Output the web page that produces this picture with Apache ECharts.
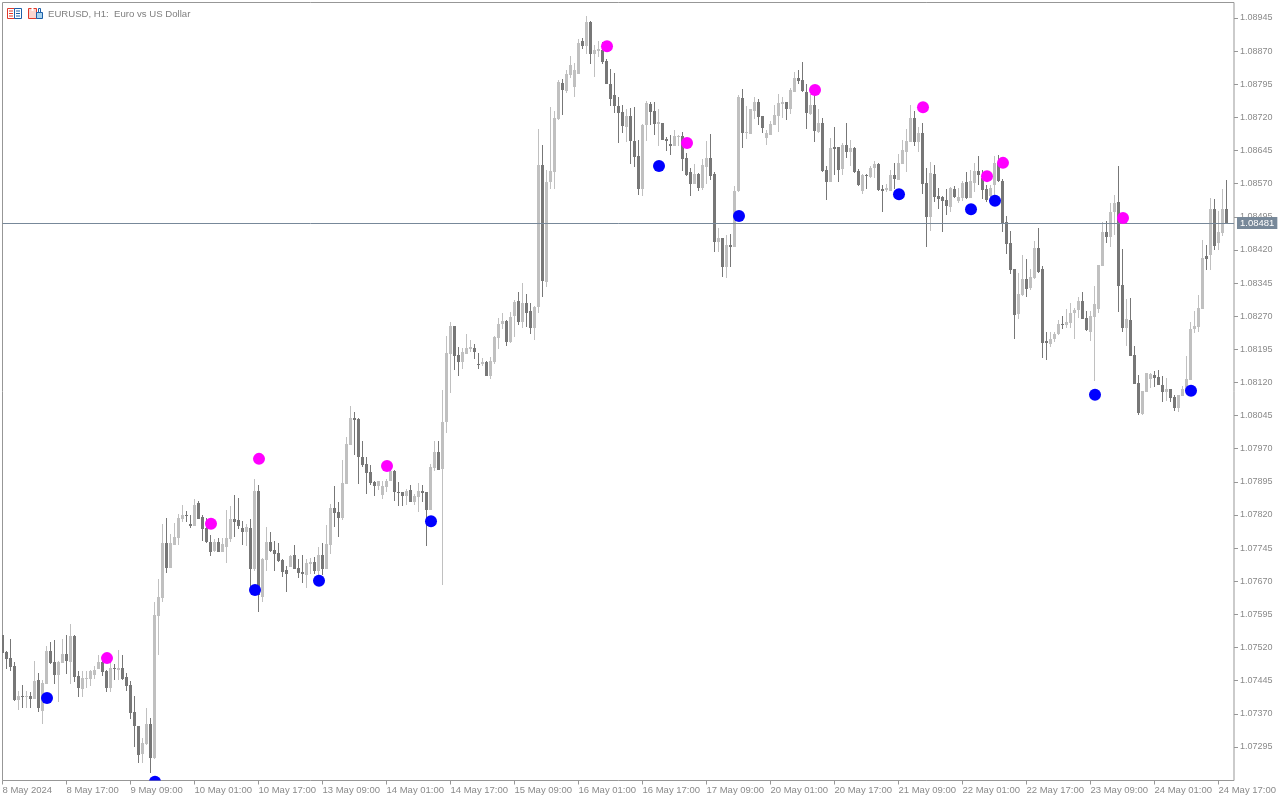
<!DOCTYPE html>
<html><head><meta charset="utf-8">
<style>html,body{margin:0;padding:0;background:#fff}#c{width:1280px;height:800px}</style>
<script src="https://cdn.jsdelivr.net/npm/echarts@6/dist/echarts.min.js"></script>
</head><body><div id="c"></div>
<script>
const opens=[1.07548,1.07509,1.07496,1.07478,1.07401,1.07410,1.07408,1.07410,1.07403,1.07446,
1.07377,1.07437,1.07512,1.07487,1.07457,1.07484,1.07505,1.07487,1.07545,1.07455,
1.07426,1.07449,1.07448,1.07457,1.07471,1.07487,1.07466,1.07428,1.07473,1.07469,
1.07473,1.07453,1.07435,1.07374,1.07342,1.07279,1.07301,1.07347,1.07270,1.07591,
1.07631,1.07756,1.07699,1.07753,1.07769,1.07810,1.07821,1.07799,1.07794,1.07846,
1.07815,1.07790,1.07759,1.07738,1.07759,1.07736,1.07747,1.07766,1.07811,1.07809,
1.07790,1.07781,1.07790,1.07698,1.07874,1.07634,1.07718,1.07759,1.07741,1.07734,
1.07718,1.07695,1.07702,1.07729,1.07700,1.07691,1.07684,1.07709,1.07714,1.07693,
1.07729,1.07698,1.07752,1.07836,1.07827,1.07813,1.07890,1.07978,1.08039,1.08037,
1.07951,1.07935,1.07917,1.07895,1.07885,1.07865,1.07883,1.07897,1.07919,1.07872,
1.07872,1.07863,1.07876,1.07849,1.07861,1.07874,1.07872,1.07831,1.07926,1.07962,
1.07924,1.08030,1.08185,1.08248,1.08183,1.08167,1.08185,1.08196,1.08198,1.08162,
1.08162,1.08167,1.08135,1.08167,1.08221,1.08253,1.08260,1.08212,1.08271,1.08305,
1.08257,1.08300,1.08282,1.08244,1.08291,1.08612,1.08348,1.08574,1.08597,1.08716,
1.08798,1.08780,1.08816,1.08789,1.08818,1.08893,1.08882,1.08936,1.08863,1.08870,
1.08873,1.08848,1.08796,1.08771,1.08746,1.08732,1.08698,1.08723,1.08667,1.08633,
1.08558,1.08703,1.08750,1.08735,1.08705,1.08707,1.08671,1.08660,1.08655,1.08676,
1.08678,1.08628,1.08597,1.08570,1.08592,1.08560,1.08608,1.08628,1.08592,1.08438,
1.08447,1.08382,1.08432,1.08427,1.08554,1.08764,1.08685,1.08683,1.08735,1.08755,
1.08723,1.08674,1.08680,1.08703,1.08723,1.08750,1.08755,1.08739,1.08778,1.08809,
1.08805,1.08778,1.08728,1.08748,1.08687,1.08707,1.08601,1.08574,1.08653,1.08653,
1.08603,1.08658,1.08642,1.08651,1.08599,1.08554,1.08590,1.08585,1.08606,1.08615,
1.08558,1.08556,1.08554,1.08590,1.08578,1.08615,1.08642,1.08664,1.08719,1.08664,
1.08685,1.08572,1.08495,1.08592,1.08542,1.08540,1.08533,1.08517,1.08558,1.08531,
1.08538,1.08574,1.08538,1.08572,1.08599,1.08583,1.08558,1.08542,1.08567,1.08617,
1.08576,1.08483,1.08436,1.08377,1.08275,1.08318,1.08354,1.08334,1.08356,1.08424,
1.08376,1.08214,1.08207,1.08218,1.08229,1.08252,1.08250,1.08254,1.08277,1.08284,
1.08304,1.08266,1.08234,1.08268,1.08286,1.08383,1.08460,1.08449,1.08505,1.08528,
1.08340,1.08243,1.08261,1.08182,1.08119,1.08048,1.08098,1.08128,1.08137,1.08132,
1.08114,1.08098,1.08105,1.08087,1.08062,1.08089,1.08103,1.08125,1.08241,1.08245,
1.08286,1.08406,1.08408,1.08512,1.08435,1.08458,1.08512];
const closes=[1.07508,1.07493,1.07476,1.07401,1.07410,1.07408,1.07410,1.07403,1.07444,1.07383,
1.07439,1.07512,1.07484,1.07457,1.07487,1.07505,1.07489,1.07545,1.07453,1.07428,
1.07451,1.07451,1.07466,1.07469,1.07487,1.07464,1.07428,1.07473,1.07472,1.07473,
1.07448,1.07432,1.07371,1.07342,1.07277,1.07304,1.07347,1.07270,1.07593,1.07634,
1.07756,1.07699,1.07756,1.07771,1.07814,1.07821,1.07817,1.07794,1.07842,1.07812,
1.07788,1.07759,1.07736,1.07759,1.07736,1.07754,1.07768,1.07811,1.07804,1.07795,
1.07781,1.07793,1.07698,1.07874,1.07639,1.07720,1.07759,1.07738,1.07732,1.07716,
1.07691,1.07686,1.07727,1.07698,1.07689,1.07686,1.07711,1.07714,1.07693,1.07729,
1.07698,1.07754,1.07836,1.07824,1.07813,1.07892,1.07980,1.08039,1.08035,1.07951,
1.07933,1.07915,1.07892,1.07885,1.07897,1.07885,1.07897,1.07919,1.07872,1.07870,
1.07863,1.07874,1.07849,1.07863,1.07874,1.07870,1.07831,1.07928,1.07962,1.07922,
1.08030,1.08186,1.08248,1.08180,1.08167,1.08189,1.08198,1.08201,1.08189,1.08160,
1.08167,1.08135,1.08169,1.08223,1.08253,1.08260,1.08212,1.08269,1.08302,1.08257,
1.08300,1.08278,1.08244,1.08291,1.08612,1.08350,1.08574,1.08599,1.08719,1.08800,
1.08782,1.08818,1.08839,1.08827,1.08888,1.08882,1.08936,1.08863,1.08873,1.08875,
1.08845,1.08796,1.08762,1.08746,1.08730,1.08701,1.08723,1.08667,1.08630,1.08558,
1.08703,1.08753,1.08732,1.08705,1.08710,1.08669,1.08667,1.08655,1.08678,1.08678,
1.08626,1.08590,1.08570,1.08592,1.08560,1.08612,1.08628,1.08588,1.08438,1.08447,
1.08382,1.08432,1.08427,1.08554,1.08766,1.08685,1.08687,1.08739,1.08755,1.08721,
1.08696,1.08685,1.08705,1.08726,1.08753,1.08755,1.08739,1.08782,1.08809,1.08803,
1.08780,1.08730,1.08748,1.08689,1.08707,1.08599,1.08574,1.08651,1.08649,1.08601,
1.08658,1.08642,1.08651,1.08597,1.08567,1.08590,1.08587,1.08606,1.08615,1.08556,
1.08554,1.08560,1.08590,1.08581,1.08617,1.08646,1.08667,1.08719,1.08664,1.08685,
1.08569,1.08495,1.08594,1.08540,1.08535,1.08531,1.08520,1.08560,1.08540,1.08540,
1.08572,1.08538,1.08576,1.08599,1.08590,1.08556,1.08533,1.08560,1.08617,1.08576,
1.08481,1.08434,1.08375,1.08273,1.08321,1.08354,1.08332,1.08359,1.08424,1.08370,
1.08209,1.08209,1.08218,1.08229,1.08252,1.08250,1.08257,1.08277,1.08284,1.08304,
1.08263,1.08238,1.08270,1.08297,1.08385,1.08460,1.08449,1.08505,1.08526,1.08338,
1.08243,1.08263,1.08180,1.08116,1.08051,1.08100,1.08141,1.08139,1.08130,1.08114,
1.08098,1.08105,1.08085,1.08062,1.08091,1.08105,1.08128,1.08241,1.08248,1.08288,
1.08401,1.08399,1.08512,1.08428,1.08460,1.08512,1.08480];
const highs=[1.07548,1.07512,1.07539,1.07487,1.07421,1.07435,1.07421,1.07419,1.07489,1.07462,
1.07446,1.07523,1.07532,1.07536,1.07489,1.07539,1.07548,1.07573,1.07548,1.07466,
1.07466,1.07466,1.07469,1.07478,1.07503,1.07503,1.07469,1.07505,1.07482,1.07514,
1.07503,1.07462,1.07444,1.07410,1.07342,1.07315,1.07383,1.07360,1.07622,1.07674,
1.07799,1.07814,1.07776,1.07801,1.07823,1.07842,1.07830,1.07819,1.07857,1.07851,
1.07820,1.07813,1.07775,1.07766,1.07768,1.07768,1.07831,1.07840,1.07865,1.07858,
1.07806,1.07800,1.07811,1.07901,1.07888,1.07723,1.07793,1.07781,1.07761,1.07757,
1.07720,1.07705,1.07729,1.07752,1.07720,1.07729,1.07720,1.07723,1.07725,1.07747,
1.07757,1.07797,1.07845,1.07885,1.07849,1.07944,1.07996,1.08066,1.08053,1.08039,
1.07987,1.07951,1.07933,1.07897,1.07897,1.07897,1.07901,1.07933,1.07922,1.07895,
1.07872,1.07879,1.07888,1.07867,1.07892,1.07888,1.07872,1.07935,1.07987,1.07987,
1.08103,1.08226,1.08257,1.08248,1.08201,1.08198,1.08230,1.08217,1.08207,1.08187,
1.08176,1.08169,1.08178,1.08226,1.08266,1.08278,1.08262,1.08280,1.08307,1.08325,
1.08345,1.08321,1.08300,1.08293,1.08694,1.08658,1.08601,1.08744,1.08735,1.08805,
1.08807,1.08827,1.08859,1.08843,1.08897,1.08900,1.08949,1.08938,1.08884,1.08893,
1.08891,1.08852,1.08830,1.08820,1.08766,1.08748,1.08739,1.08741,1.08744,1.08669,
1.08705,1.08757,1.08755,1.08755,1.08739,1.08707,1.08676,1.08680,1.08692,1.08680,
1.08687,1.08639,1.08606,1.08615,1.08594,1.08626,1.08667,1.08683,1.08597,1.08470,
1.08447,1.08454,1.08456,1.08565,1.08771,1.08784,1.08746,1.08739,1.08766,1.08762,
1.08723,1.08692,1.08712,1.08748,1.08773,1.08766,1.08755,1.08787,1.08823,1.08827,
1.08845,1.08796,1.08773,1.08771,1.08739,1.08719,1.08610,1.08674,1.08698,1.08653,
1.08662,1.08707,1.08669,1.08653,1.08603,1.08592,1.08592,1.08610,1.08621,1.08617,
1.08567,1.08569,1.08601,1.08617,1.08637,1.08669,1.08694,1.08748,1.08735,1.08698,
1.08707,1.08606,1.08619,1.08612,1.08560,1.08542,1.08558,1.08563,1.08565,1.08560,
1.08576,1.08597,1.08601,1.08617,1.08633,1.08601,1.08567,1.08567,1.08633,1.08635,
1.08581,1.08497,1.08463,1.08377,1.08368,1.08409,1.08400,1.08377,1.08440,1.08469,
1.08383,1.08234,1.08234,1.08234,1.08261,1.08270,1.08286,1.08300,1.08288,1.08313,
1.08324,1.08281,1.08281,1.08338,1.08385,1.08483,1.08485,1.08526,1.08544,1.08609,
1.08422,1.08309,1.08311,1.08202,1.08137,1.08100,1.08141,1.08141,1.08146,1.08148,
1.08134,1.08130,1.08105,1.08091,1.08091,1.08112,1.08180,1.08257,1.08281,1.08318,
1.08442,1.08431,1.08537,1.08535,1.08508,1.08557,1.08578];
const lows=[1.07508,1.07472,1.07467,1.07399,1.07378,1.07383,1.07383,1.07383,1.07403,1.07374,
1.07347,1.07437,1.07482,1.07437,1.07396,1.07484,1.07460,1.07437,1.07442,1.07408,
1.07408,1.07428,1.07432,1.07448,1.07471,1.07455,1.07419,1.07419,1.07446,1.07446,
1.07446,1.07421,1.07358,1.07295,1.07258,1.07258,1.07299,1.07236,1.07267,1.07503,
1.07622,1.07688,1.07699,1.07753,1.07751,1.07803,1.07805,1.07790,1.07794,1.07810,
1.07761,1.07757,1.07727,1.07736,1.07736,1.07736,1.07711,1.07759,1.07770,1.07788,
1.07752,1.07750,1.07657,1.07693,1.07600,1.07623,1.07693,1.07736,1.07693,1.07714,
1.07680,1.07646,1.07702,1.07698,1.07677,1.07666,1.07655,1.07686,1.07686,1.07684,
1.07684,1.07698,1.07732,1.07793,1.07770,1.07809,1.07890,1.07978,1.07956,1.07890,
1.07928,1.07867,1.07888,1.07863,1.07876,1.07856,1.07872,1.07897,1.07852,1.07840,
1.07840,1.07842,1.07849,1.07842,1.07827,1.07849,1.07750,1.07831,1.07919,1.07922,
1.07662,1.08006,1.08097,1.08149,1.08135,1.08151,1.08185,1.08189,1.08174,1.08151,
1.08158,1.08135,1.08128,1.08162,1.08196,1.08241,1.08203,1.08210,1.08223,1.08250,
1.08244,1.08246,1.08230,1.08217,1.08278,1.08314,1.08336,1.08558,1.08558,1.08714,
1.08725,1.08775,1.08809,1.08766,1.08818,1.08875,1.08863,1.08841,1.08811,1.08857,
1.08841,1.08796,1.08746,1.08730,1.08662,1.08685,1.08664,1.08615,1.08608,1.08545,
1.08542,1.08667,1.08703,1.08680,1.08655,1.08669,1.08644,1.08635,1.08655,1.08655,
1.08599,1.08588,1.08542,1.08570,1.08554,1.08556,1.08570,1.08579,1.08416,1.08416,
1.08359,1.08357,1.08382,1.08427,1.08551,1.08651,1.08671,1.08683,1.08717,1.08703,
1.08685,1.08658,1.08680,1.08703,1.08687,1.08719,1.08714,1.08728,1.08778,1.08796,
1.08778,1.08694,1.08726,1.08665,1.08685,1.08597,1.08533,1.08574,1.08590,1.08574,
1.08590,1.08628,1.08610,1.08594,1.08565,1.08547,1.08558,1.08583,1.08583,1.08554,
1.08506,1.08551,1.08554,1.08558,1.08578,1.08615,1.08597,1.08664,1.08655,1.08642,
1.08547,1.08427,1.08463,1.08529,1.08513,1.08461,1.08499,1.08506,1.08538,1.08526,
1.08531,1.08535,1.08538,1.08551,1.08567,1.08535,1.08529,1.08533,1.08542,1.08574,
1.08461,1.08411,1.08366,1.08219,1.08264,1.08316,1.08314,1.08330,1.08354,1.08367,
1.08175,1.08171,1.08200,1.08211,1.08227,1.08241,1.08243,1.08243,1.08218,1.08266,
1.08263,1.08236,1.08214,1.08123,1.08277,1.08383,1.08435,1.08426,1.08453,1.08279,
1.08234,1.08202,1.08180,1.08116,1.08046,1.08046,1.08098,1.08107,1.08110,1.08114,
1.08076,1.08078,1.08076,1.08055,1.08053,1.08089,1.08103,1.08125,1.08232,1.08234,
1.08286,1.08374,1.08374,1.08419,1.08419,1.08451,1.08480];

const sellBars=[26,52,64,96,151,171,203,230,246,250,280];
const sellPrices=[1.07496,1.07800,1.07947,1.07931,1.08881,1.08662,1.08782,1.08743,1.08587,1.08617,1.08492];
const buyBars=[11,38,63,79,107,164,184,224,242,248,273,297];
const buyPrices=[1.07406,1.07216,1.07650,1.07671,1.07806,1.08610,1.08497,1.08546,1.08512,1.08531,1.08092,1.08101];

const priceTicks=[1.07295,1.07370,1.07445,1.07520,1.07595,1.07670,1.07745,1.07820,1.07895,1.07970,1.08045,1.08120,1.08195,1.08270,1.08345,1.08420,1.08495,1.08570,1.08645,1.08720,1.08795,1.08870,1.08945];
const timeLabels=["8 May 2024","8 May 17:00","9 May 09:00","10 May 01:00","10 May 17:00","13 May 09:00","14 May 01:00","14 May 17:00","15 May 09:00","16 May 01:00","16 May 17:00","17 May 09:00","20 May 01:00","20 May 17:00","21 May 09:00","22 May 01:00","22 May 17:00","23 May 09:00","24 May 01:00","24 May 17:00"];
const timeBars=timeLabels.map((_,k)=>k*16);
const currentPrice=1.08481;

const FONT='"Liberation Sans"';
const GREY='#8a8a8a';
const candleData=opens.map((o,i)=>[i,o,closes[i],lows[i],highs[i]]);
const markerItem=color=>function(params,api){
  const p=api.coord([api.value(0),api.value(1)]);
  return {type:'circle',shape:{cx:p[0]+0.5,cy:p[1],r:6},style:{fill:color}};
};

const chart=echarts.init(document.getElementById('c'),null,{width:1280,height:800,renderer:'canvas'});
chart.setOption({
  animation:false,
  backgroundColor:'#fff',
  title:{text:'EURUSD, H1:  Euro vs US Dollar',left:43,top:4,textStyle:{fontFamily:FONT,fontSize:9.6,fontWeight:'normal',color:'#7f7f7f'}},
  grid:{left:2.5,top:2.5,width:1231.5,height:778,show:true,borderColor:'#979797',borderWidth:1,backgroundColor:'#fff',outerBoundsMode:'none'},
  xAxis:{type:'value',min:0,max:307.875,
    axisLine:{show:false,onZero:false},splitLine:{show:false},
    axisTick:{show:true,length:4,lineStyle:{color:'#979797'},customValues:timeBars},
    axisLabel:{show:true,customValues:timeBars,align:'left',margin:5,fontFamily:FONT,fontSize:9.5,color:GREY,
      formatter:v=>timeLabels[Math.round(v/16)]||''}},
  yAxis:{type:'value',position:'right',min:1.07219,max:1.0898,scale:true,
    axisLine:{show:false,onZero:false},splitLine:{show:false},
    axisTick:{show:true,length:4,lineStyle:{color:'#979797'},customValues:priceTicks},
    axisLabel:{show:true,customValues:priceTicks,margin:6,fontFamily:FONT,fontSize:9,color:GREY,
      formatter:v=>v.toFixed(5)}},
  series:[
    {type:'custom',name:'EURUSD',clip:true,data:candleData,encode:{x:0,y:[1,2,3,4]},z:2,
      renderItem(params,api){
        const i=api.value(0),o=api.value(1),c=api.value(2),l=api.value(3),h=api.value(4);
        const x=Math.floor(api.coord([i,o])[0]);
        const yT=Math.round(api.coord([i,Math.max(o,c)])[1]);
        const yB=Math.round(api.coord([i,Math.min(o,c)])[1]);
        const yH=Math.round(api.coord([i,h])[1]);
        const yL=Math.round(api.coord([i,l])[1]);
        const col=c>=o?'#c0c0c0':'#777777';
        return {type:'group',children:[
          {type:'rect',shape:{x:x,y:yH,width:1,height:Math.max(1,yL-yH)},style:{fill:col}},
          {type:'rect',shape:{x:x-1,y:yT,width:3,height:Math.max(1,yB-yT)},style:{fill:col}}
        ]};
      },
      markLine:{silent:true,symbol:'none',animation:false,precision:5,
        lineStyle:{color:'#778899',width:1,type:'solid'},
        label:{show:true,position:'end',distance:3,formatter:p=>Number(p.value).toFixed(5),color:'#fff',backgroundColor:'#778899',padding:[1,3,1,3],fontFamily:FONT,fontSize:9.5},
        data:[{yAxis:currentPrice}]}
    },
    {type:'custom',name:'Sell',clip:true,z:5,encode:{x:0,y:1},renderItem:markerItem('#ff00ff'),
      data:sellBars.map((b,k)=>[b,sellPrices[k]])},
    {type:'custom',name:'Buy',clip:true,z:5,encode:{x:0,y:1},renderItem:markerItem('#0000ff'),
      data:buyBars.map((b,k)=>[b,buyPrices[k]])}
  ],
  graphic:[
    {type:'group',left:7,top:8,silent:true,children:[
      {type:'rect',shape:{x:0.5,y:0.5,width:7,height:10},style:{fill:'#fff',stroke:'#e0392b',lineWidth:1}},
      {type:'rect',shape:{x:7.5,y:0.5,width:7,height:10},style:{fill:'#fff',stroke:'#1c5fa8',lineWidth:1}},
      {type:'rect',shape:{x:2,y:2.5,width:4,height:1},style:{fill:'#e0392b'}},
      {type:'rect',shape:{x:2,y:5,width:4,height:1},style:{fill:'#e0392b'}},
      {type:'rect',shape:{x:2,y:7.5,width:4,height:1},style:{fill:'#e0392b'}},
      {type:'rect',shape:{x:9,y:2.5,width:4,height:1},style:{fill:'#1c5fa8'}},
      {type:'rect',shape:{x:9,y:5,width:4,height:1},style:{fill:'#1c5fa8'}},
      {type:'rect',shape:{x:9,y:7.5,width:4,height:1},style:{fill:'#1c5fa8'}}
    ]},
    {type:'group',left:28,top:8,silent:true,children:[
      {type:'rect',shape:{x:0.5,y:0.5,width:8,height:10},style:{fill:'#fbd5cf',stroke:'#e0392b',lineWidth:1}},
      {type:'rect',shape:{x:3.5,y:0,width:2,height:3},style:{fill:'#fff'}},
      {type:'rect',shape:{x:8.5,y:4.5,width:6,height:6},style:{fill:'#a9d3ee',stroke:'#1c5fa8',lineWidth:1}},
      {type:'rect',shape:{x:10.5,y:0.5,width:2,height:4},style:{fill:'#fff',stroke:'#1c5fa8',lineWidth:1}}
    ]}
  ]
});
</script></body></html>
